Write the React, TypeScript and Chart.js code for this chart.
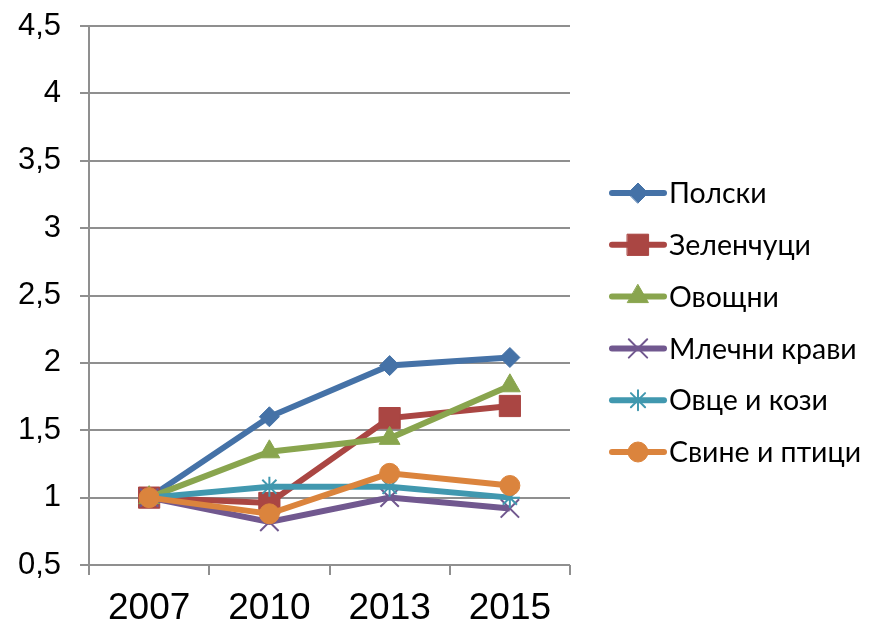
import React, { useEffect, useRef } from "react";
import { Chart, registerables } from "chart.js";
import * as helpers from "chart.js/helpers";

Chart.register(...registerables);

const categories = ["2007", "2010", "2013", "2015"];
const polski = [1, 1.6, 1.98, 2.04];
const zelenchuci = [1, 0.96, 1.59, 1.68];
const ovoshtni = [1, 1.34, 1.44, 1.83];
const mlechniKravi = [1, 0.82, 1.0, 0.92];
const ovceKozi = [1, 1.08, 1.08, 1.0];
const svinePtici = [1, 0.88, 1.18, 1.09];
const seriesNames = ["Полски", "Зеленчуци", "Овощни", "Млечни крави", "Овце и кози", "Свине и птици"];
const seriesColors = ["#4572A7", "#AA4643", "#89A54E", "#71588F", "#4198AF", "#DB843D"];
const yMin = 0.5;
const yMax = 4.5;
const yStep = 0.5;

const seriesValues = [polski, zelenchuci, ovoshtni, mlechniKravi, ovceKozi, svinePtici];
const markerStyles = ["rectRot", "rect", "triangle", "crossRot", "star", "circle"];
const markerRadius = [10, 15, 12, 13, 10, 10];
const markerBorder = [1, 1, 1, 2, 2, 1];

const legendPlugin = {
  id: "sideLegend",
  afterDraw(chart: any) {
    const ctx = chart.ctx;
    const startY = 193;
    const stepY = 51.8;
    ctx.save();
    chart.data.datasets.forEach((ds: any, i: number) => {
      const y = startY + i * stepY;
      ctx.strokeStyle = ds.borderColor;
      ctx.lineWidth = 6;
      ctx.lineCap = "round";
      ctx.beginPath();
      ctx.moveTo(612, y);
      ctx.lineTo(664, y);
      ctx.stroke();
      ctx.fillStyle = ds.backgroundColor;
      ctx.strokeStyle = ds.borderColor;
      ctx.lineWidth = ds.pointBorderWidth;
      helpers.drawPoint(ctx, { pointStyle: ds.pointStyle, radius: ds.pointRadius, rotation: 0, borderWidth: ds.pointBorderWidth }, 638, y);
      ctx.fillStyle = "#000";
      ctx.font = "28.5px Lato, 'Noto Sans', sans-serif";
      ctx.textAlign = "left";
      ctx.textBaseline = "middle";
      ctx.fillText(ds.label, 669, y + 1);
    });
    ctx.restore();
  },
};

export default function App() {
  const ref = useRef<HTMLCanvasElement>(null);
  useEffect(() => {
    if (!ref.current) return;
    const n = seriesValues.length;
    const chart = new Chart(ref.current, {
      type: "line",
      data: {
        labels: categories,
        datasets: seriesValues.map((vals, i) => ({
          label: seriesNames[i],
          data: vals,
          borderColor: seriesColors[i],
          backgroundColor: seriesColors[i],
          borderWidth: 6,
          pointStyle: markerStyles[i] as any,
          pointRadius: markerRadius[i],
          pointBorderWidth: markerBorder[i],
          pointBackgroundColor: seriesColors[i],
          pointBorderColor: seriesColors[i],
          tension: 0,
          order: n - i,
        })),
      },
      options: {
        animation: false,
        responsive: false,
        layout: { padding: { left: 0, right: 299, top: 26, bottom: 0 } },
        plugins: { legend: { display: false }, tooltip: { enabled: false } },
        scales: {
          x: {
            offset: true,
            grid: { offset: true, drawOnChartArea: false, drawTicks: true, tickLength: 10, color: "#8f8f8f", lineWidth: 2 },
            border: { display: false },
            ticks: { color: "#000", font: { family: "'Liberation Sans', Arial, sans-serif", size: 37 }, padding: 12, maxRotation: 0 },
            afterFit: (s: any) => { s.height = 56; s.paddingLeft = 0; s.paddingRight = 0; },
          },
          y: {
            min: yMin,
            max: yMax,
            grid: { color: "#8f8f8f", lineWidth: 2, tickLength: 9 },
            border: { color: "#8f8f8f", width: 2 },
            ticks: {
              stepSize: yStep,
              color: "#000",
              font: { family: "'Liberation Sans', Arial, sans-serif", size: 31 },
              padding: 19,
              callback: (v: any) => String(v).replace(".", ","),
            },
            afterFit: (s: any) => { s.width = 89; s.paddingTop = 0; s.paddingBottom = 0; },
          },
        },
      },
      plugins: [legendPlugin],
    });
    return () => chart.destroy();
  }, []);
  return (
    <div style={{ position: "fixed", left: 0, top: 0, width: 869, height: 621, background: "#fff" }}>
      <canvas ref={ref} width={869} height={621} />
    </div>
  );
}
